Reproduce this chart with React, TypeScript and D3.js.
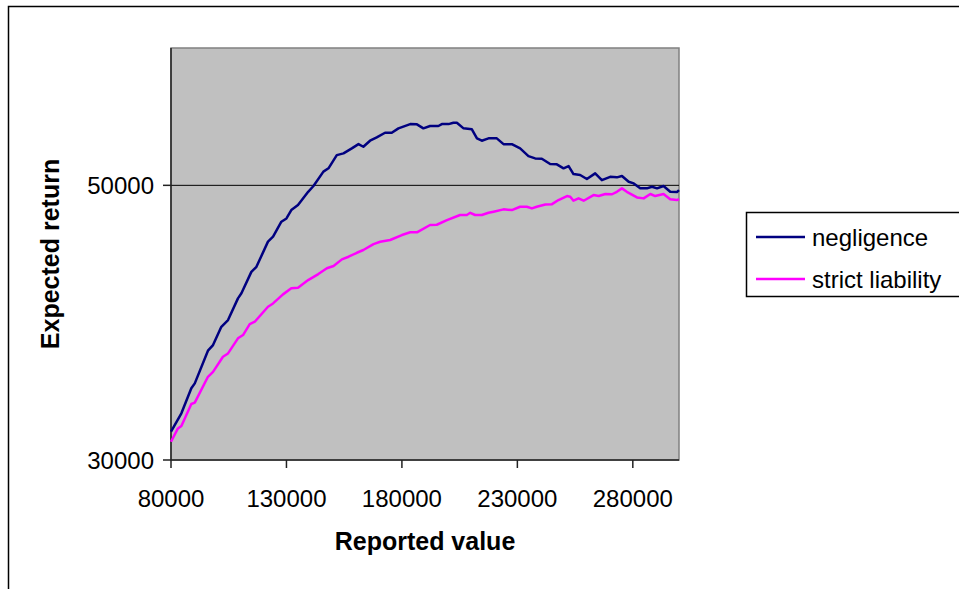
import React from "react";
import * as d3 from "d3";

// reported value (x) and expected return (y)
const negligenceX = [
  80000, 84500, 88800, 90300, 96000, 98200, 101800, 104700, 109000, 110500,
  114800, 117000, 122000, 124200, 127800, 130000, 132100, 135000, 139400, 141700,
  146000, 148200, 151800, 154700, 158300, 161200, 163300, 166200, 169100, 172700,
  175600, 178500, 183600, 186500, 189300, 192200, 195800, 197300, 200200, 202300,
  203800, 206700, 210300, 212500, 214600, 217500, 221100, 224000, 227600, 231200,
  234800, 237700, 240600, 244200, 247100, 250000, 252200, 254300, 257200, 260100,
  263700, 266600, 270200, 273100, 275300, 278200, 280400, 283200, 286100, 288300,
  290500, 293300, 296200, 299100, 300000,
];
const negligenceY = [
  32060, 33400, 35220, 35580, 37960, 38370, 39700, 40190, 41770, 42140,
  43700, 44070, 45900, 46260, 47350, 47590, 48200, 48560, 49530, 49950,
  51000, 51240, 52200, 52330, 52690, 53000, 52810, 53250, 53490, 53830,
  53830, 54150, 54460, 54440, 54150, 54320, 54320, 54460, 54460, 54560,
  54560, 54150, 54080, 53420, 53250, 53420, 53420, 53000, 53000, 52690,
  52130, 51960, 51940, 51550, 51530, 51240, 51400, 50820, 50750, 50460,
  50870, 50380, 50620, 50580, 50680, 50260, 50140, 49780, 49780, 49900,
  49780, 49950, 49530, 49510, 49650,
];

const strictX = [
  80000, 83000, 84500, 88800, 90300, 96000, 98200, 102500, 104700, 109000,
  111200, 114100, 116300, 122000, 124200, 128500, 132100, 135000, 139400, 143800,
  147500, 150400, 154000, 156900, 160500, 163300, 167700, 170600, 174900, 180000,
  183600, 186500, 192200, 195100, 199500, 205200, 208100, 209600, 211700, 214600,
  217500, 219700, 224000, 227600, 231200, 234100, 236300, 238400, 242100, 245000,
  247800, 251500, 252900, 254300, 256500, 258700, 263000, 265200, 268100, 271000,
  273100, 275300, 277400, 281800, 284700, 287600, 289700, 293300, 296200, 299100,
  300000,
];
const strictY = [
  31330, 32300, 32470, 34080, 34180, 36060, 36420, 37520, 37760, 38860,
  39100, 39900, 40070, 41160, 41400, 42060, 42500, 42550, 43100, 43540,
  43960, 44130, 44610, 44800, 45090, 45290, 45720, 45890, 46020, 46380,
  46580, 46580, 47110, 47130, 47470, 47840, 47840, 48000, 47840, 47840,
  48000, 48080, 48250, 48200, 48440, 48440, 48320, 48440, 48610, 48630,
  48930, 49220, 49170, 48880, 49050, 48880, 49290, 49220, 49370, 49350,
  49530, 49780, 49530, 49120, 49050, 49370, 49220, 49370, 48980, 48930,
  49000,
];

const xTicks = [80000, 130000, 180000, 230000, 280000];
const yTicks = [30000, 50000];

const seriesNames = ["negligence", "strict liability"];
const seriesColors = ["#000080", "#ff00ff"];

const W = 959;
const H = 589;
const plot = { left: 171, top: 48, right: 679, bottom: 460 };
const font = "Arial, 'Liberation Sans', sans-serif";

const App: React.FC = () => {
  const x = d3.scaleLinear().domain([80000, 300000]).range([plot.left, plot.right]);
  const y = d3.scaleLinear().domain([30000, 60000]).range([plot.bottom, plot.top]);

  const line = d3
    .line<[number, number]>()
    .x((d) => x(d[0]))
    .y((d) => y(d[1]));

  const series = [
    d3.zip(negligenceX, negligenceY) as [number, number][],
    d3.zip(strictX, strictY) as [number, number][],
  ];

  return (
    <div style={{ position: "absolute", left: 0, top: 0 }}>
      <svg width={W} height={H} style={{ display: "block", background: "#fff" }}>
        {/* chart frame, runs past the picture edges */}
        <rect x={8.5} y={6.5} width={1000} height={700} fill="#fff" stroke="#000" strokeWidth={1.5} />

        {/* plot area */}
        <rect
          x={plot.left}
          y={plot.top}
          width={plot.right - plot.left}
          height={plot.bottom - plot.top}
          fill="#c0c0c0"
          stroke="#808080"
          strokeWidth={1.5}
        />

        {/* gridlines */}
        {yTicks
          .filter((t) => t !== 30000)
          .map((t) => (
            <line key={t} x1={plot.left} x2={plot.right} y1={y(t)} y2={y(t)} stroke="#000" strokeWidth={1} />
          ))}

        {/* y axis */}
        <line x1={plot.left} x2={plot.left} y1={plot.top} y2={plot.bottom} stroke="#222" strokeWidth={1.5} />
        {yTicks.map((t) => (
          <g key={t}>
            <line x1={plot.left - 8} x2={plot.left} y1={y(t)} y2={y(t)} stroke="#222" strokeWidth={1.5} />
            <text
              x={plot.left - 17}
              y={y(t)}
              dy="0.36em"
              textAnchor="end"
              fontFamily={font}
              fontSize={24}
              fill="#000"
            >
              {t}
            </text>
          </g>
        ))}

        {/* x axis */}
        <line x1={plot.left} x2={plot.right} y1={plot.bottom} y2={plot.bottom} stroke="#222" strokeWidth={1.5} />
        {xTicks.map((t) => (
          <g key={t}>
            <line x1={x(t)} x2={x(t)} y1={plot.bottom} y2={plot.bottom + 8} stroke="#222" strokeWidth={1.5} />
            <text x={x(t)} y={507} textAnchor="middle" fontFamily={font} fontSize={24} fill="#000">
              {t}
            </text>
          </g>
        ))}

        {/* series */}
        {series.map((s, i) => (
          <path key={i} d={line(s) ?? ""} fill="none" stroke={seriesColors[i]} strokeWidth={2.5} strokeLinejoin="round" />
        ))}

        {/* axis titles */}
        <text
          x={(plot.left + plot.right) / 2}
          y={550}
          textAnchor="middle"
          fontFamily={font}
          fontSize={25}
          fontWeight="bold"
          fill="#000"
        >
          Reported value
        </text>
        <text
          transform={`translate(59, ${(plot.top + plot.bottom) / 2}) rotate(-90)`}
          textAnchor="middle"
          fontFamily={font}
          fontSize={25}
          fontWeight="bold"
          fill="#000"
        >
          Expected return
        </text>

        {/* legend */}
        <rect x={746.5} y={212.5} width={300} height={84} fill="#fff" stroke="#000" strokeWidth={1.5} />
        {seriesNames.map((name, i) => {
          const ly = 237 + i * 42;
          return (
            <g key={name}>
              <line x1={756} x2={805} y1={ly} y2={ly} stroke={seriesColors[i]} strokeWidth={2.5} />
              <text x={812} y={ly} dy="0.36em" fontFamily={font} fontSize={24} fill="#000">
                {name}
              </text>
            </g>
          );
        })}
      </svg>
    </div>
  );
};

export default App;
